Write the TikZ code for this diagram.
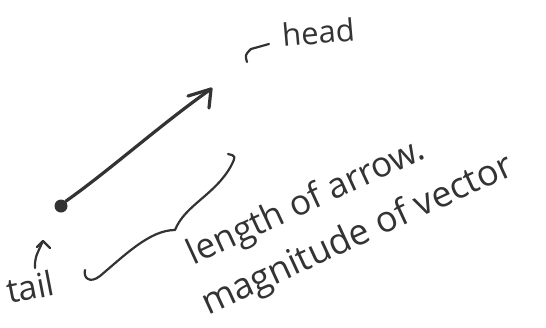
\documentclass[tikz,border=0pt]{standalone}
\usepackage{fontspec}
\setmainfont{Open Sans}
\definecolor{inkc}{HTML}{333333}
\begin{document}
\begin{tikzpicture}[x=1pt,y=-1pt,
  ink/.style={draw=inkc, line width=3.2pt, line cap=round, line join=round},
  thinink/.style={draw=inkc, line width=2.2pt, line cap=round, line join=round},
  hand/.style={text=inkc, inner sep=0pt}]
\useasboundingbox[fill=white] (0,0) rectangle (546,327);
% vector
\node[circle, fill=inkc, inner sep=0pt, minimum size=13pt] (tail) at (61,206) {};
\coordinate (tip) at (211,89);
\coordinate (armA) at (188,96);
\coordinate (armB) at (209,108);
\draw[ink] (tail.north east) .. controls (110,170) and (160,125) .. (tip);
\draw[ink] (armA) -- (tip) -- (armB);
% labels
\node[hand, anchor=base west, rotate=5, font=\fontsize{31}{33}\selectfont] (headlbl) at (283,47) {head};
\node[hand, anchor=base west, rotate=11, font=\fontsize{34}{36}\selectfont] (taillbl) at (9,304) {tail};
\node[hand, anchor=base west, rotate=24.8, align=left, font=\fontsize{35}{52}\selectfont] (lenlbl) at (208,316)
  {\hspace*{8pt}length of arrow.\\[0pt]\fontsize{36}{52}\selectfont magnitude of vector};
% pointers
\coordinate (hp0) at (247,62);
\coordinate (hp1) at (251,49);
\coordinate (hp2) at (269,44);
\draw[thinink] (hp0) .. controls (245,55) .. (hp1) -- (hp2);
\coordinate (tp0) at (35,268);
\coordinate (tp1) at (43,241);
\coordinate (tpl) at (37,247);
\coordinate (tpr) at (50,248);
\draw[thinink] (tp0) .. controls (35,258) .. (tp1);
\draw[thinink] (tpl) -- (tp1) -- (tpr);
% brace
\coordinate (b0) at (85,270);
\coordinate (cusp) at (175,230);
\coordinate (b1) at (228,154);
\draw[thinink] (b0) .. controls (83,278) and (90,284) .. (100,276)
  .. controls (125,255) and (150,230) .. (cusp)
  .. controls (185,205) and (215,195) .. (231,166)
  .. controls (236,156) .. (b1);
\end{tikzpicture}
\end{document}
